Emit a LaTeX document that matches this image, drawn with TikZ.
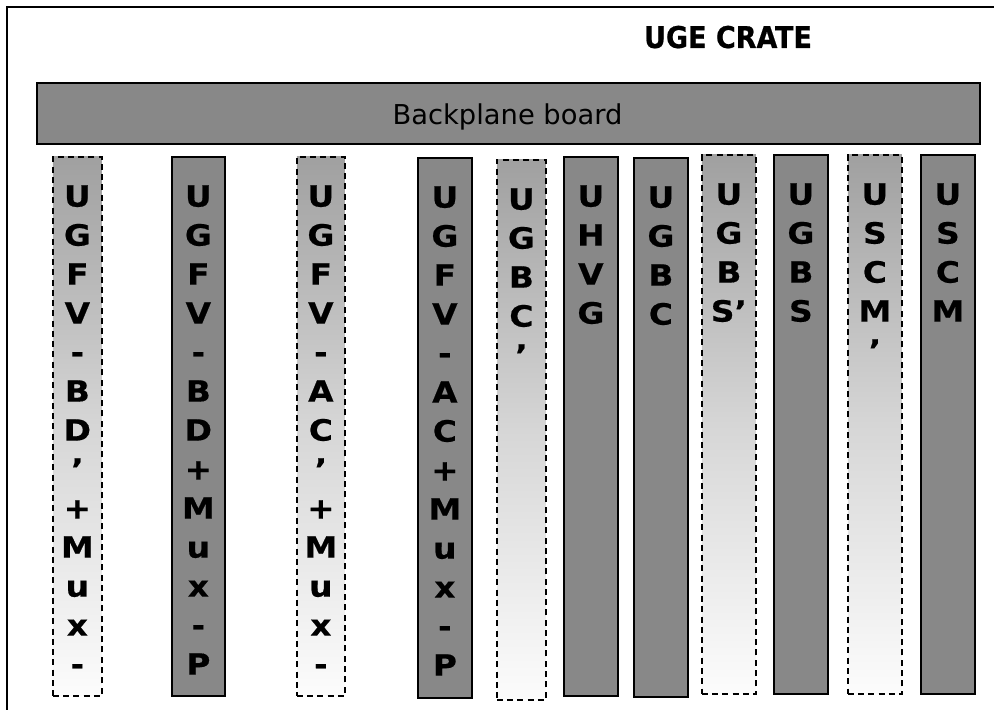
\documentclass[tikz,border=0pt]{standalone}
\usepackage{fontspec}
\setmainfont{DejaVu Sans}
\newfontfamily\cardfont[FakeStretch=1.12,FakeBold=0.5]{DejaVu Sans Bold}
\newfontfamily\titlefont[FakeBold=0.6]{DejaVu Sans Condensed Bold}
\usetikzlibrary{calc}
\definecolor{boardgray}{RGB}{136,136,136}
\definecolor{shadetop}{RGB}{160,160,160}
\definecolor{shademid}{RGB}{214,214,214}
\definecolor{shadebot}{RGB}{252,252,252}
\tikzset{
  solidcard/.style={draw=black, line width=1.3pt, fill=boardgray},
  spare/.style={draw=black, line width=1.3pt, dash pattern=on 4.5pt off 3.2pt,
    top color=shadetop, bottom color=shadebot, middle color=shademid},
  cardtext/.style={font=\fontsize{22pt}{29.25pt}\cardfont,
    align=center, inner sep=0pt, anchor=north},
  frameline/.style={line width=1.8pt, draw=black},
}
\newcommand\cardslot[7]{%
  \node[#6, inner sep=0pt, anchor=north west,
        minimum width={(#3-#2)*0.75pt}, minimum height={(#5-#4)*0.75pt}] (#1) at (#2,#4) {};
  \node[cardtext] (#1t) at ($(#1.north)+(0,29)$) {#7};
}
\begin{document}
\begin{tikzpicture}[x=0.75pt,y=-0.75pt]
\useasboundingbox (0,0) rectangle (994,709);
\coordinate (fbl) at (7,715);
\coordinate (ftl) at (7,7);
\coordinate (ftr) at (1000,7);
\draw[frameline] (fbl) -- (ftl) -- (ftr);
\node[font=\fontsize{22.5pt}{25pt}\titlefont, anchor=base] (title) at (728,48) {UGE CRATE};
\node[solidcard, anchor=north west, inner sep=0pt,
      minimum width={943*0.75pt}, minimum height={61*0.75pt}] (bp) at (36,82) {};
\node[font=\fontsize{20.5pt}{24pt}\selectfont, anchor=base] (bpt) at (507.5,125) {Backplane board};
\cardslot{c1}{52}{101}{156}{695}{spare}{U\\G\\F\\V\\-\\B\\D\\’\\+\\M\\u\\x\\-}
\cardslot{c2}{171}{224}{156}{695}{solidcard}{U\\G\\F\\V\\-\\B\\D\\+\\M\\u\\x\\-\\P}
\cardslot{c3}{296}{344}{156}{695}{spare}{U\\G\\F\\V\\-\\A\\C\\’\\+\\M\\u\\x\\-}
\cardslot{c4}{417}{471}{157}{697}{solidcard}{U\\G\\F\\V\\-\\A\\C\\+\\M\\u\\x\\-\\P}
\cardslot{c5}{496}{545}{159}{699}{spare}{U\\G\\B\\C\\’}
\cardslot{c6}{563}{617}{156}{695}{solidcard}{U\\H\\V\\G}
\cardslot{c7}{633}{687}{157}{696}{solidcard}{U\\G\\B\\C}
\cardslot{c8}{701}{755}{154}{693}{spare}{U\\G\\B\\S’}
\cardslot{c9}{773}{827}{154}{693}{solidcard}{U\\G\\B\\S}
\cardslot{c10}{847}{901}{154}{693}{spare}{U\\S\\C\\M\\’}
\cardslot{c11}{920}{974}{154}{693}{solidcard}{U\\S\\C\\M}
\end{tikzpicture}
\end{document}
